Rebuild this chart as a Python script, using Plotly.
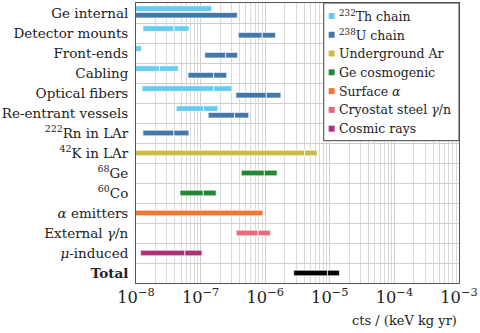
import plotly.graph_objects as go

categories = ["Ge internal", "Detector mounts", "Front-ends", "Cabling", "Optical fibers",
              "Re-entrant vessels", "<sup>222</sup>Rn in LAr", "<sup>42</sup>K in LAr",
              "<sup>68</sup>Ge", "<sup>60</sup>Co", "<i>α</i> emitters", "External <i>γ</i>/n",
              "<i>μ</i>-induced", "<b>Total</b>"]

# per source: category index, low, central, high  (None low = from zero, None central = limit only)
th_rows = [0, 1, 2, 3, 4, 5]
th_low = [None, 1.28e-8, None, None, 1.24e-8, 4.2e-8]
th_mid = [None, 3.9e-8, None, 2.3e-8, 1.6e-7, 1.11e-7]
th_high = [1.48e-7, 6.6e-8, 1.22e-8, 4.5e-8, 3.06e-7, 1.85e-7]

u_rows = [0, 1, 2, 3, 4, 5, 6]
u_low = [None, 3.83e-7, 1.16e-7, 6.4e-8, 3.52e-7, 1.31e-7, 1.28e-8]
u_mid = [None, 9.0e-7, 2.45e-7, 1.59e-7, 1.04e-6, 3.36e-7, 3.87e-8]
u_high = [3.7e-7, 1.44e-6, 3.74e-7, 2.54e-7, 1.75e-6, 5.57e-7, 6.6e-8]

ar_rows = [7]
ar_low = [None]
ar_mid = [4.07e-6]
ar_high = [6.4e-6]

cosmo_rows = [8, 9]
cosmo_low = [4.26e-7, 4.8e-8]
cosmo_mid = [9.7e-7, 1.1e-7]
cosmo_high = [1.53e-6, 1.74e-7]

alpha_rows = [10]
alpha_low = [None]
alpha_mid = [None]
alpha_high = [9.25e-7]

steel_rows = [11]
steel_low = [3.57e-7]
steel_mid = [7.76e-7]
steel_high = [1.2e-6]

muon_rows = [12]
muon_low = [1.18e-8]
muon_mid = [5.7e-8]
muon_high = [1.05e-7]

total_rows = [13]
total_low = [2.76e-6]
total_mid = [9.2e-6]
total_high = [1.41e-5]

series = [
    ("<sup>232</sup>Th chain", "#66CCEE", th_rows, th_low, th_mid, th_high, -0.22, True),
    ("<sup>238</sup>U chain", "#4477AA", u_rows, u_low, u_mid, u_high, 0.11, True),
    ("Underground Ar", "#CCBB44", ar_rows, ar_low, ar_mid, ar_high, 0, True),
    ("Ge cosmogenic", "#228833", cosmo_rows, cosmo_low, cosmo_mid, cosmo_high, 0, True),
    ("Surface <i>α</i>", "#EE7733", alpha_rows, alpha_low, alpha_mid, alpha_high, 0, True),
    ("Cryostat steel <i>γ</i>/n", "#EE6677", steel_rows, steel_low, steel_mid, steel_high, 0, True),
    ("Cosmic rays", "#AA3377", muon_rows, muon_low, muon_mid, muon_high, 0, True),
    ("Total", "black", total_rows, total_low, total_mid, total_high, 0, False),
]

FLOOR = 1e-10
FONT = "DejaVu Serif"

# plot area in pixels, used to place the hand-built legend
PX_L, PX_R, PX_T, PX_B = 132.3, 458.7, 2.0, 282.7


def px_x(p):
    return (p - PX_L) / (PX_R - PX_L)


def px_y(p):
    return (PX_B - p) / (PX_B - PX_T)


fig = go.Figure()

for name, color, rows, lows, mids, highs, shift, in_legend in series:
    ys, bases, lengths = [], [], []
    for r, lo, mid, hi in zip(rows, lows, mids, highs):
        # single-row categories are centred, the Th/U pair is split
        off = shift if r <= 5 else 0
        start = lo if lo is not None else FLOOR
        edges = [start, mid, hi] if mid is not None else [start, hi]
        for a, b in zip(edges[:-1], edges[1:]):
            ys.append(r + off)
            bases.append(a)
            lengths.append(b - a)
    fig.add_trace(go.Bar(
        y=ys, x=lengths, base=bases, orientation="h", width=0.28, name=name,
        marker=dict(color=color, line=dict(color="white", width=0.7)),
        showlegend=False, hoverinfo="skip"
    ))

# legend box
shapes = [dict(type="rect", xref="paper", yref="paper",
               x0=px_x(322), x1=1, y0=px_y(140), y1=1,
               fillcolor="white", line=dict(color="#444", width=1), layer="above")]
annotations = []
legend_items = [s for s in series if s[7]]
for i, s in enumerate(legend_items):
    yc = 15 + i * 18.83
    shapes.append(dict(type="rect", xref="paper", yref="paper",
                       x0=px_x(327), x1=px_x(333), y0=px_y(yc + 3), y1=px_y(yc - 3),
                       fillcolor=s[1], line=dict(width=0), layer="above"))
    annotations.append(dict(text=s[0], xref="paper", yref="paper",
                            x=px_x(335.5), y=px_y(yc), xanchor="left", yanchor="middle",
                            showarrow=False, font=dict(size=12.5, color="#222")))

annotations.append(dict(text="cts / (keV kg yr)", xref="paper", yref="paper",
                        x=1, y=-0.133, xanchor="right", yanchor="middle",
                        showarrow=False, font=dict(size=13)))

fig.update_layout(
    width=480, height=333,
    margin=dict(l=132, r=21, t=2, b=50),
    plot_bgcolor="white", paper_bgcolor="white",
    font=dict(family=FONT, size=13, color="#222"),
    barmode="overlay", showlegend=False,
    xaxis=dict(type="log", range=[-8, -3], dtick=1, exponentformat="power",
               showgrid=True, gridcolor="#cfcfcf", gridwidth=1,
               minor=dict(dtick="D1", showgrid=True, gridcolor="#dadada", ticks=""),
               showline=True, linecolor="#555", linewidth=1, mirror=True,
               ticks="", tickfont=dict(size=13), zeroline=False),
    yaxis=dict(range=[13.5, -0.5], tickmode="array", tickvals=list(range(len(categories))),
               ticktext=categories, showgrid=False, zeroline=False,
               minor=dict(tick0=0.5, dtick=1, showgrid=True, gridcolor="#cfcfcf", ticks=""),
               showline=True, linecolor="#555", linewidth=1, mirror=True,
               ticks="", ticklabelstandoff=4, tickfont=dict(size=13.5)),
    shapes=shapes,
    annotations=annotations,
)

# page body has a default 8px margin; drop it so the figure sits at the corner
fig.write_html("out.html", config={"displayModeBar": False},
               post_script="document.body.style.margin='0';")
